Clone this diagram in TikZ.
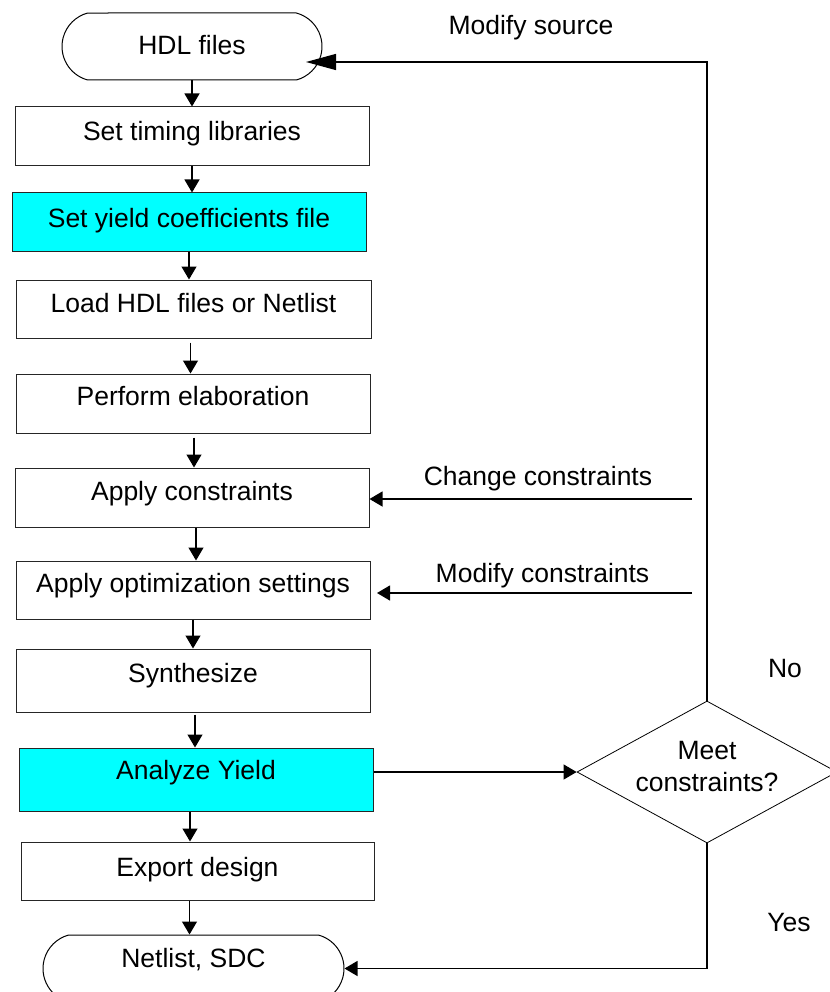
\documentclass[tikz,border=0pt]{standalone}
\usepackage{fontspec}
\setmainfont{Liberation Sans}
\usetikzlibrary{arrows.meta,shapes.misc,shapes.geometric}
\definecolor{aqua}{RGB}{0,255,255}
\begin{document}
\begin{tikzpicture}[x=1pt,y=-1pt,
  every node/.style={font=\fontsize{26.5}{32}\selectfont},
  stepbox/.style={draw=black!85, line width=1pt, rectangle, minimum width=354pt,
    minimum height=59pt, inner sep=0pt, text height=19pt, text depth=12pt},
  hl/.style={fill=aqua},
  term/.style={draw=black, line width=1pt, rounded rectangle,
    rounded rectangle arc length=150, minimum height=67pt, inner sep=0pt,
    text height=19pt},
  decision/.style={draw=black, line width=0.8pt, diamond, minimum width=260pt,
    minimum height=142pt, inner sep=0pt},
  flow/.style={line width=1.2pt, -{Triangle[length=13pt,width=15pt]}},
  longflow/.style={line width=1.2pt, -{Triangle[length=30pt,width=16pt]}},
  lbl/.style={anchor=base, inner sep=0pt}
]
\useasboundingbox (0,0) rectangle (829,992);

% main column
\node[term, minimum width=260pt, text depth=2pt] (hdl) at (192,46.5) {HDL files};
\node[stepbox, text depth=11pt] (timing) at (192,136.5) {Set timing libraries};
\node[stepbox, hl, minimum height=58pt, text depth=8pt] (yieldc) at (189,222) {Set yield coefficients file};
\node[stepbox, minimum width=355pt, minimum height=58pt, text depth=13pt] (load) at (193.5,309) {Load HDL files or Netlist};
\node[stepbox, text depth=15pt] (elab) at (193,403.5) {Perform elaboration};
\node[stepbox, text depth=14pt] (apply) at (192,497.5) {Apply constraints};
\node[stepbox, minimum height=58pt, text depth=15pt] (opt) at (193,590) {Apply optimization settings};
\node[stepbox, minimum height=63pt, text depth=16pt] (synth) at (193,680.5) {Synthesize};
\node[stepbox, hl, minimum height=63pt, text depth=20pt] (analyze) at (196,779.5) {Analyze Yield};
\node[stepbox, minimum width=353pt, minimum height=58pt, text depth=9pt] (export) at (197.5,871) {Export design};
\node[term, minimum width=301pt, text depth=22pt] (netlist) at (193.5,968.5) {Netlist, SDC};

% decision, its two-line text set as a centred label
\node[decision, label={[align=center, inner sep=0pt, yshift=5pt]center:Meet\\constraints?}] (dec) at (707,772) {};

% downward flow
\draw[flow] (hdl.south) -- (hdl.south |- timing.north);
\draw[flow] (timing.south) -- (timing.south |- yieldc.north);
\draw[flow] (yieldc.south) -- (yieldc.south |- load.north);
\draw[flow] (load.south) ++(-3,4) coordinate (la) -- (la |- elab.north);
\draw[flow] (elab.south) ++(1,4) coordinate (ea) -- (ea |- apply.north);
\draw[flow] (apply.south) ++(4,0) coordinate (aa) -- (aa |- opt.north);
\draw[flow] (opt.south) -- (opt.south |- synth.north);
\draw[flow] (synth.south) ++(2,2) coordinate (sa) -- (sa |- analyze.north);
\draw[flow] (analyze.south) ++(-6,0) coordinate (ya) -- (ya |- export.north);
\draw[flow] (export.south) ++(-8,0) coordinate (xa) -- (xa |- netlist.north);

% decision outputs and loop-backs
\draw[flow] (dec.west -| analyze.east) -- (dec.west);
\coordinate (hdlin) at (306,62);
\draw[longflow] (dec.north) |- (hdlin);
\coordinate (ccfrom) at (692,499);
\draw[flow] (ccfrom) -- (ccfrom -| apply.east);
\coordinate (mcfrom) at (692,593);
\coordinate (mcto) at (377,593);
\draw[flow] (mcfrom) -- (mcto);
\draw[flow] (dec.south) |- (netlist.east);

% labels
\node[lbl] (lmod) at (531,35) {Modify source};
\node[lbl] (lcc) at (538,485) {Change constraints};
\node[lbl] (lmc) at (542.5,582) {Modify constraints};
\node[lbl] (lno) at (785,677) {No};
\node[lbl] (lyes) at (789,931) {Yes};
\end{tikzpicture}
\end{document}
